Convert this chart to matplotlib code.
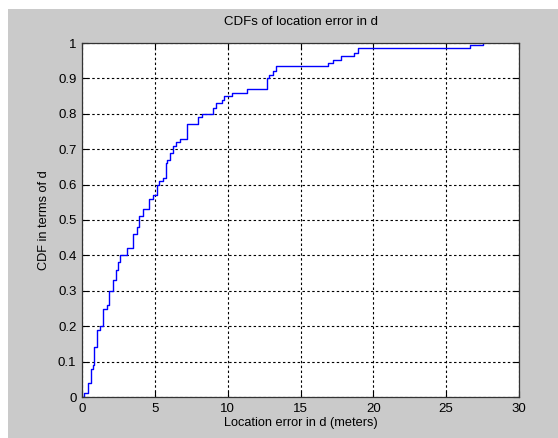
import matplotlib
matplotlib.use("Agg")
import matplotlib.pyplot as plt
from matplotlib.patches import Rectangle

# Step breakpoints (location error, meters) and CDF level after each step
err_x = [0.09, 0.16, 0.39, 0.60, 0.73, 0.85, 1.00, 1.24, 1.46, 1.69, 1.88, 2.10,
         2.33, 2.47, 2.60, 3.07, 3.52, 3.80, 3.93, 4.16, 4.57, 4.90, 5.12, 5.31,
         5.58, 5.77, 5.86, 6.04, 6.27, 6.45, 6.73, 7.18, 7.94, 8.21, 8.97, 9.20,
         9.63, 9.75, 10.27, 11.35, 12.67, 12.86, 13.09, 13.30, 16.90, 17.20,
         17.75, 18.67, 18.96, 26.63, 27.54]
cdf_y = [0.00, 0.01, 0.04, 0.08, 0.09, 0.14, 0.19, 0.20, 0.25, 0.26, 0.30, 0.33,
         0.36, 0.38, 0.40, 0.42, 0.46, 0.48, 0.51, 0.53, 0.56, 0.57, 0.60, 0.61,
         0.62, 0.66, 0.67, 0.69, 0.71, 0.72, 0.73, 0.77, 0.79, 0.80, 0.815, 0.83,
         0.84, 0.85, 0.86, 0.87, 0.90, 0.91, 0.92, 0.935, 0.943, 0.952,
         0.964, 0.973, 0.985, 0.994, 1.00]

xticks = [0, 5, 10, 15, 20, 25, 30]
yticks = [0, 0.1, 0.2, 0.3, 0.4, 0.5, 0.6, 0.7, 0.8, 0.9, 1]
ytick_labels = ["0", "0.1", "0.2", "0.3", "0.4", "0.5", "0.6", "0.7", "0.8", "0.9", "1"]

plt.rcParams['font.family'] = ['Liberation Sans', 'DejaVu Sans']
W, H = 558, 438
fig = plt.figure(figsize=(W / 100, H / 100), dpi=100, facecolor='#cacaca')
# white border strips at top and left (as in screenshot)
fig.patches.append(Rectangle((0, 1 - 9 / H), 1, 9 / H, transform=fig.transFigure,
                             facecolor='white', edgecolor='none', zorder=0))
fig.patches.append(Rectangle((0, 0), 8 / W, 1, transform=fig.transFigure,
                             facecolor='white', edgecolor='none', zorder=0))

left, right, top, bottom = 82, 519, 43, 397
ax = fig.add_axes([left / W, 1 - bottom / H, (right - left) / W, (bottom - top) / H])
ax.set_facecolor('white')

ax.step(err_x, cdf_y, where='post', color='#0000ff', linewidth=1.0)

ax.set_xlim(0, 30)
ax.set_ylim(0, 1)
ax.set_xticks(xticks)
ax.set_yticks(yticks)
ax.set_yticklabels(ytick_labels)
ax.grid(True, color='black', linestyle=(0, (2.2, 2.2)), linewidth=0.8)
ax.tick_params(direction='in', top=True, right=True, length=4, width=0.8,
               labelsize=9.5, colors='black', pad=4)
for s in ax.spines.values():
    s.set_color('#333333')
    s.set_linewidth(0.9)

ax.set_title('CDFs of location error in d', fontsize=9.5, pad=13)
ax.set_xlabel('Location error in d (meters)', fontsize=9.2, labelpad=2)
ax.set_ylabel('CDF in terms of d', fontsize=9.2, labelpad=6)

fig.savefig('out.png', dpi=100, facecolor=fig.get_facecolor())
